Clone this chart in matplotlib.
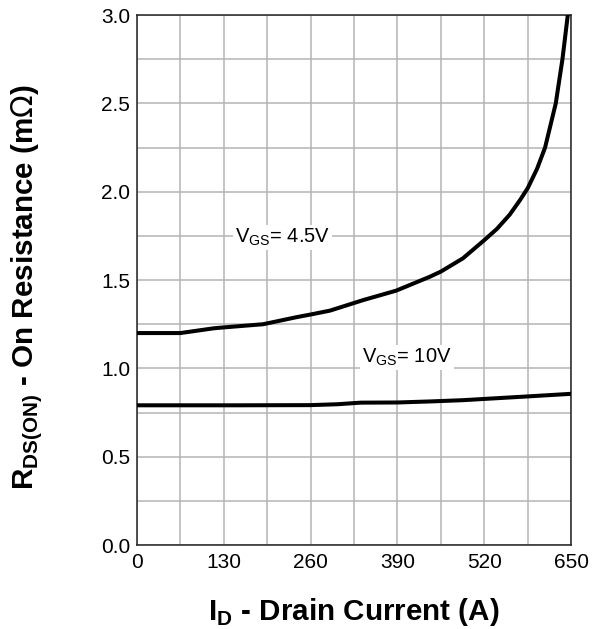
import numpy as np
import matplotlib.pyplot as plt

plt.rcParams['font.family'] = ['Liberation Sans', 'DejaVu Sans']

# V_GS = 4.5V curve
id_45 = [0, 65, 115, 130, 189, 239, 260, 289, 339, 388, 438, 455, 488,
         520, 539, 558, 573, 585, 599, 611, 627, 637, 645]
rds_45 = [1.2, 1.2, 1.227, 1.232, 1.25, 1.29, 1.305, 1.327, 1.387, 1.44,
          1.518, 1.548, 1.623, 1.726, 1.79, 1.87, 1.95, 2.02, 2.13, 2.25, 2.5, 2.75, 3.0]

# V_GS = 10V curve
id_10 = [0, 150, 260, 300, 335, 390, 440, 488, 588, 650]
rds_10 = [0.791, 0.791, 0.792, 0.797, 0.806, 0.807, 0.813, 0.82, 0.842, 0.856]

x_ticks = [0, 130, 260, 390, 520, 650]
y_ticks = [0.0, 0.5, 1.0, 1.5, 2.0, 2.5, 3.0]

fig = plt.figure(figsize=(6.05, 6.29), dpi=100)
ax = fig.add_axes([0.2264, 0.1335, 0.7176, 0.8425])

ax.plot(id_45, rds_45, color='black', lw=2.9, solid_joinstyle='round', zorder=3)
ax.plot(id_10, rds_10, color='black', lw=2.9, solid_joinstyle='round', zorder=3)

ax.set_xlim(0, 650)
ax.set_ylim(0, 3.0)
ax.set_xticks(x_ticks)
ax.set_yticks(y_ticks)
ax.set_xticklabels([str(v) for v in x_ticks])
ax.set_yticklabels(['%.1f' % v for v in y_ticks])
ax.set_xticks(np.arange(0, 651, 65), minor=True)
ax.set_yticks(np.arange(0, 3.01, 0.25), minor=True)
ax.grid(which='both', color='#b4b4b4', lw=1.1, zorder=0)
ax.tick_params(which='both', length=0, labelsize=15)
ax.tick_params(axis='x', pad=6)
ax.tick_params(axis='y', pad=5)
for s in ax.spines.values():
    s.set_color('#222222')
    s.set_linewidth(1.1)

box = dict(facecolor='white', edgecolor='none', pad=1.5)
ax.text(147, 1.74, r'V$_{\mathregular{GS}}$= 4.5V', fontsize=14.5, va='center', ha='left', bbox=box, zorder=4)
ax.text(337, 1.06, r'V$_{\mathregular{GS}}$= 10V', fontsize=14.5, va='center', ha='left', bbox=box, zorder=4)

ax.set_xlabel(r'I$_{\mathregular{D}}$ - Drain Current (A)', fontsize=21.3, fontweight='bold')
ax.set_ylabel(r'R$_{\mathregular{DS(ON)}}$ - On Resistance (m$\Omega$)', fontsize=21.3, fontweight='bold')
ax.xaxis.set_label_coords(0.5, -0.097)
ax.yaxis.set_label_coords(-0.215, 0.486)

fig.savefig('out.png', dpi=100)
